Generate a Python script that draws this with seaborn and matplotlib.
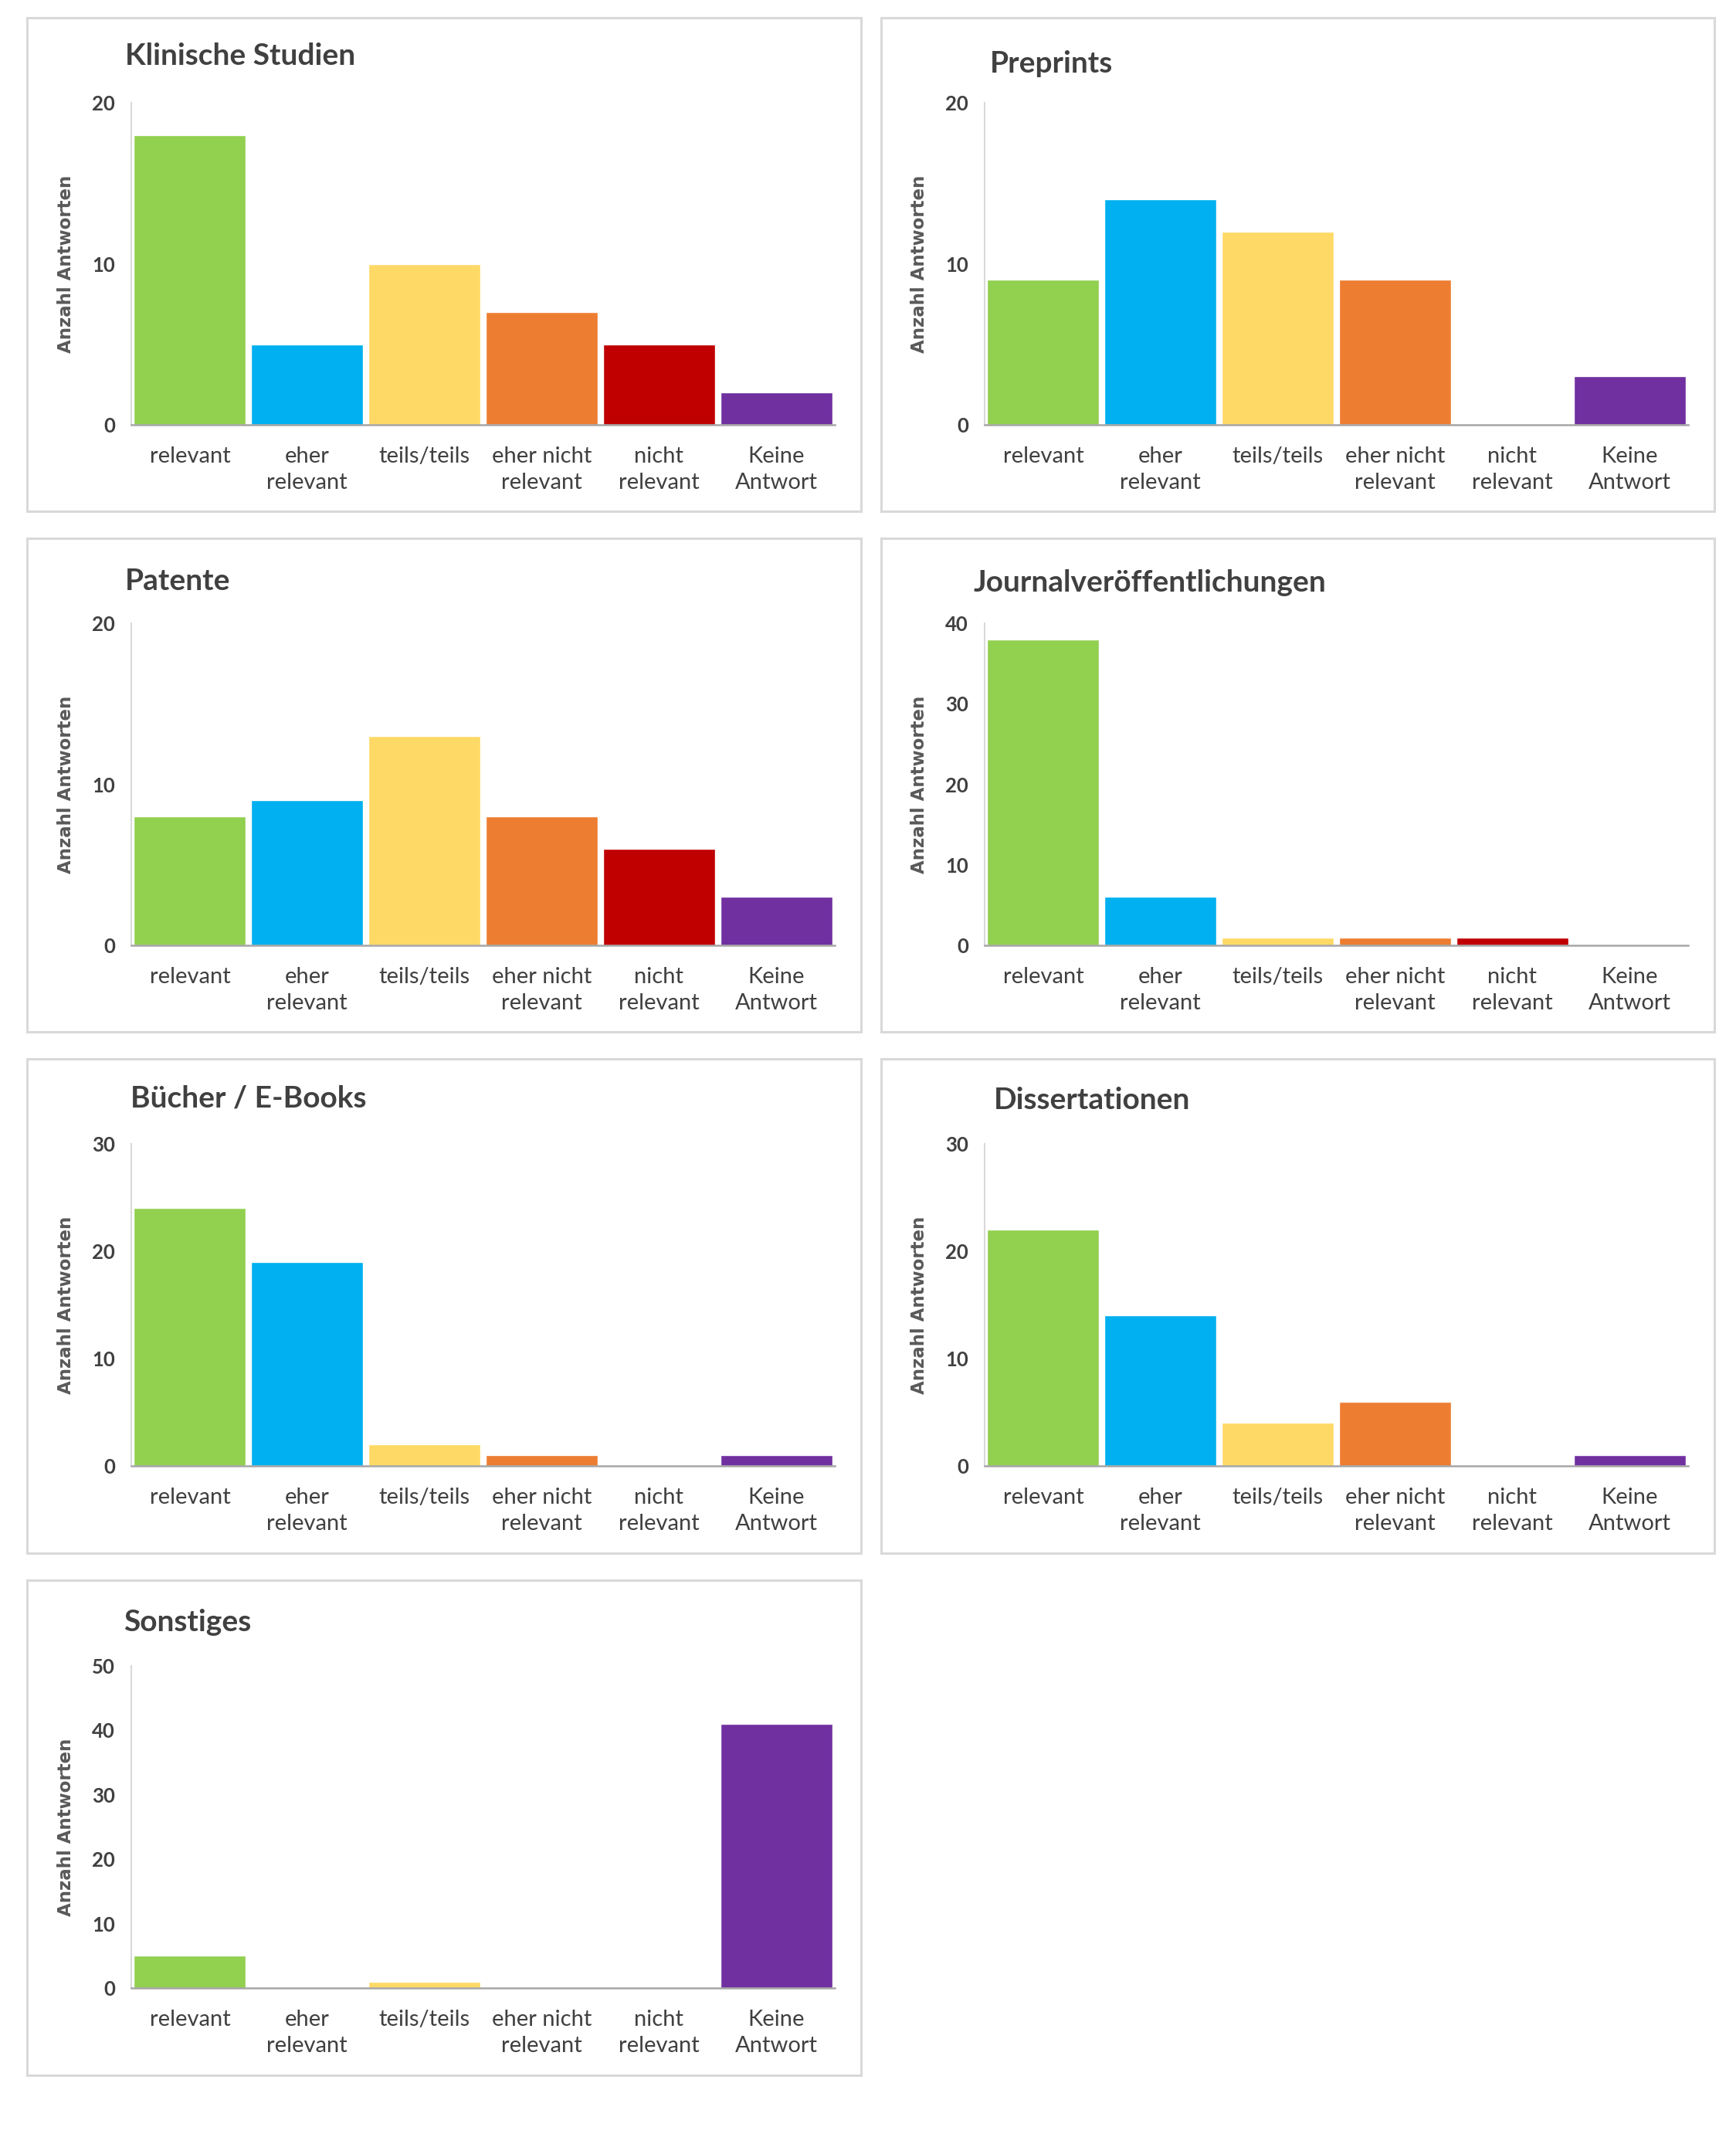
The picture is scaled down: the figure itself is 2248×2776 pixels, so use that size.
import numpy as np
import matplotlib
matplotlib.use("Agg")
import matplotlib.pyplot as plt
from matplotlib.patches import Rectangle
import seaborn as sns

sns.set_style("white")
plt.rcParams['font.family'] = ['Lato', 'DejaVu Sans']

# Daten
kategorien = ["relevant", "eher\nrelevant", "teils/teils", "eher nicht\nrelevant", "nicht\nrelevant", "Keine\nAntwort"]
farben = ["#92D050", "#00B0F0", "#FFD966", "#ED7D31", "#C00000", "#7030A0"]

titel = ["Klinische Studien", "Preprints", "Patente", "Journalveröffentlichungen",
         "Bücher / E-Books", "Dissertationen", "Sonstiges"]
klinische_studien = [18, 5, 10, 7, 5, 2]
preprints = [9, 14, 12, 9, 0, 3]
patente = [8, 9, 13, 8, 6, 3]
journal = [38, 6, 1, 1, 1, 0]
buecher = [24, 19, 2, 1, 0, 1]
dissertationen = [22, 14, 4, 6, 0, 1]
sonstiges = [5, 0, 1, 0, 0, 41]
werte = [klinische_studien, preprints, patente, journal, buecher, dissertationen, sonstiges]
y_max = [20, 20, 20, 40, 30, 30, 50]

W, H = 2248, 2776
fig = plt.figure(figsize=(W / 100, H / 100), dpi=100)

# layout in pixel
ax_left = [170, 1275]
ax_w = 911
ax_bottom = [550, 1224, 1898, 2574]
ax_h = 417
frame_x = [(35, 1115), (1141, 2220)]
frame_y = [(23, 662), (697, 1336), (1371, 2011), (2046, 2687)]
title_pos = [(162, 73), (1282, 82), (162, 753), (1261, 754), (169, 1422), (1287, 1424), (160, 2100)]

for k in range(len(titel)):
    r, c = k // 2, k % 2
    fx0, fx1 = frame_x[c]
    fy0, fy1 = frame_y[r]
    fig.patches.append(Rectangle((fx0 / W, 1 - fy1 / H), (fx1 - fx0) / W, (fy1 - fy0) / H,
                                 transform=fig.transFigure, fill=False,
                                 edgecolor="#D9D9D9", linewidth=2.2))
    ax = fig.add_axes([ax_left[c] / W, 1 - ax_bottom[r] / H, ax_w / W, ax_h / H])
    sns.barplot(x=kategorien, y=werte[k], hue=kategorien, palette=farben, order=kategorien,
                hue_order=kategorien, width=0.955, saturation=1, legend=False, ax=ax)
    ax.set_xlim(-0.5, 5.5)
    ax.set_ylim(0, y_max[k])
    ax.set_yticks(np.arange(0, y_max[k] + 1, 10))
    ax.set_xlabel("")
    ax.set_ylabel("Anzahl Antworten", family="DejaVu Sans", fontweight="bold",
                  fontsize=16.5, color="#595959", labelpad=16)
    ax.set_xticks(np.arange(6))
    ax.set_xticklabels(kategorien, fontsize=21, color="#404040", linespacing=1.4)
    ax.set_xticks(np.arange(-0.5, 6, 1), minor=True)
    ax.tick_params(axis="x", which="major", length=0, pad=20)
    ax.tick_params(axis="x", which="minor", length=12, width=1.5, color="#A6A6A6", direction="out")
    ax.tick_params(axis="y", length=7, width=1.2, color="#D9D9D9", direction="out", pad=8)
    for t in ax.get_yticklabels():
        t.set_fontweight("bold")
        t.set_fontsize(18.5)
        t.set_color("#404040")
    for s in ["top", "right"]:
        ax.spines[s].set_visible(False)
    ax.spines["left"].set_color("#D9D9D9")
    ax.spines["left"].set_linewidth(1.5)
    ax.spines["bottom"].set_color("#A6A6A6")
    ax.spines["bottom"].set_linewidth(1.8)
    tx, ty = title_pos[k]
    fig.text(tx / W, 1 - ty / H, titel[k], fontsize=28, fontweight="bold",
             color="#404040", ha="left", va="center")

fig.savefig("out.png", dpi=100, facecolor="white")
